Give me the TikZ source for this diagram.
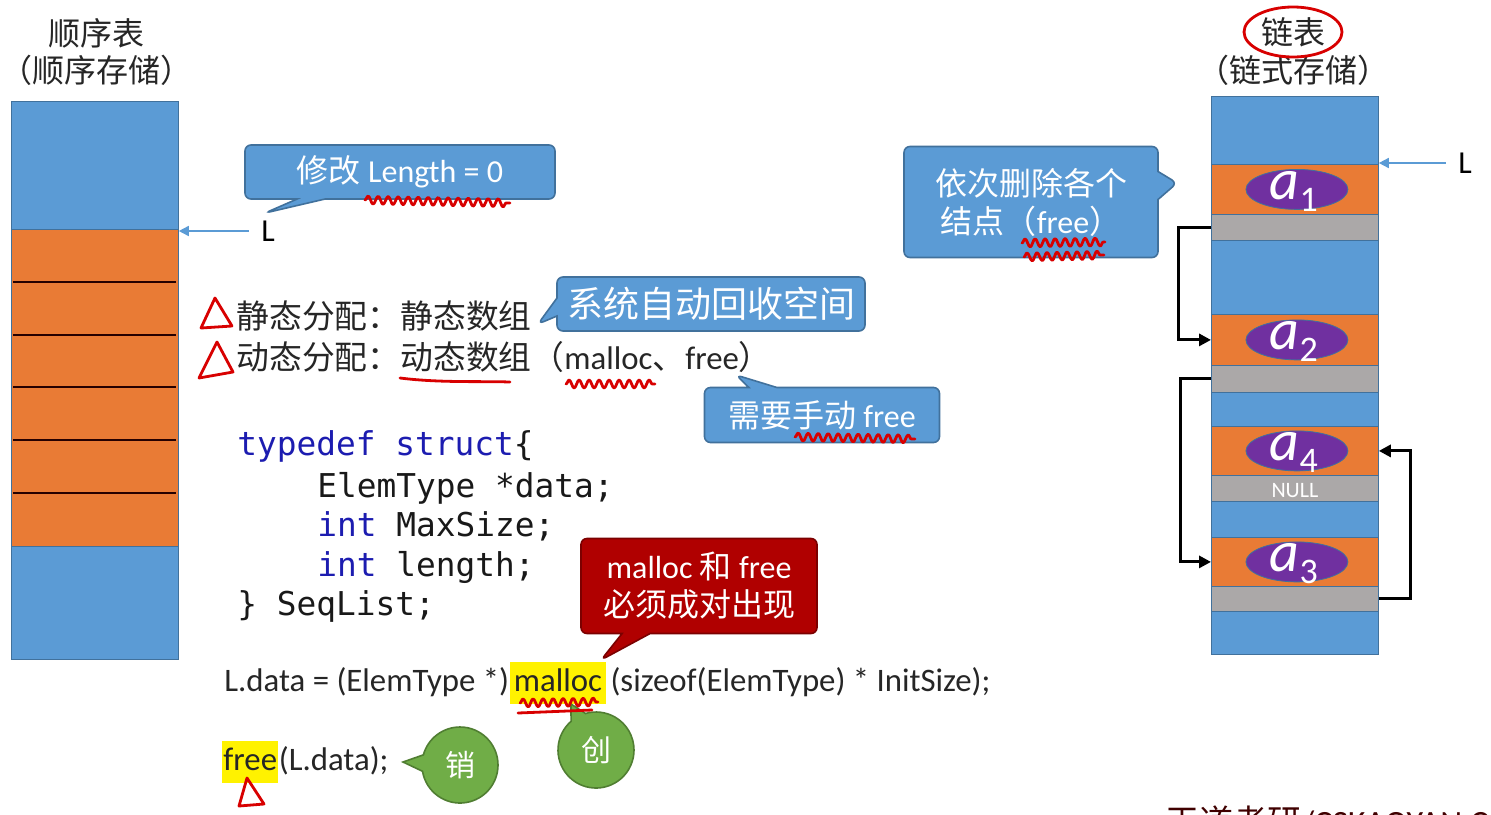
\documentclass[tikz,border=0pt]{standalone}
\usepackage{fontspec}
\setmainfont{Carlito}
\setmonofont{DejaVu Sans Mono}
\newfontfamily\cjk{Noto Sans CJK SC}
\usepackage{tikz}
\usetikzlibrary{positioning, shapes.geometric, shapes.callouts}
\usetikzlibrary{arrows.meta, decorations.pathmorphing}

\definecolor{slideblue}{HTML}{5B9BD5}
\definecolor{slideblueline}{HTML}{41719C}
\definecolor{slideorange}{HTML}{E97B35}
\definecolor{slidegray}{HTML}{ABA8A8}
\definecolor{slidepurple}{HTML}{7030A0}
\definecolor{slidegreen}{HTML}{70AD47}
\definecolor{slidegreenline}{HTML}{507E32}
\definecolor{slidered}{HTML}{B00000}
\definecolor{inkred}{HTML}{D80000}
\definecolor{kwblue}{HTML}{1C1CB0}
\definecolor{textgray}{HTML}{262626}

\newcommand{\zh}[1]{{\cjk #1}}
\newcommand{\kw}[1]{\textcolor{kwblue}{#1}}

\tikzset{
  blk/.style={draw=slideblueline, fill=slideblue, minimum width=83.5pt,
    inner sep=0pt, anchor=north west},
  dat/.style={blk, fill=slideorange},
  nxt/.style={blk, fill=slidegray},
  cell/.style={line width=1pt, draw=black!85!red},
  elem/.style={ellipse, draw=slideblueline, fill=slidepurple,
    minimum width=51pt, minimum height=20pt, inner sep=0pt},
  atext/.style={text=white, font=\fontsize{29}{29}\selectfont\itshape, inner sep=0pt},
  nulltext/.style={text=white, font=\fontsize{11}{12}\selectfont},
  ttl/.style={text=textgray, font=\fontsize{16}{19}\selectfont},
  lbl/.style={text=black, font=\fontsize{16}{19}\selectfont, inner sep=0pt},
  txt/.style={text=textgray, font=\fontsize{16.4}{20}\selectfont, inner sep=0pt,
    anchor=west, text height=12pt, text depth=4pt},
  hl/.style={txt, fill=yellow, inner xsep=2pt, inner ysep=2.5pt},
  code/.style={text=black!90, font=\ttfamily\fontsize{16.4}{20}\selectfont,
    inner sep=0pt, anchor=base west},
  lptr/.style={draw=slideblue, line width=0.8pt, -{Triangle[length=5pt, width=5pt]}},
  link/.style={draw=black, line width=1.5pt, -{Triangle[length=6pt, width=6pt]}},
  callbox/.style={rectangle callout, rounded corners=3pt, draw=slideblueline,
    fill=slideblue, text=white, line width=0.8pt, inner sep=0pt,
    callout pointer width=14pt, font=\fontsize{16}{19}\selectfont},
  gcall/.style={ellipse callout, draw=slidegreenline, fill=slidegreen, text=white,
    line width=0.8pt, minimum width=38pt, minimum height=38pt, inner sep=0pt,
    callout pointer arc=25, font=\fontsize{15}{18}\selectfont},
  ink/.style={draw=inkred, line width=1.4pt, line cap=round, line join=round},
  wavy/.style={ink, decorate, decoration={snake, amplitude=2pt, segment length=5pt}},
}

\begin{document}
\begin{tikzpicture}[x=0.5pt, y=-0.5pt]
\useasboundingbox[fill=white] (0,0) rectangle (1491,814);

% sequential storage
\node[ttl] (sqname) at (96,33) {\zh{顺序表}};
\node[ttl] (sqkind) at (96,70) {\zh{（顺序存储）}};
\node[blk, minimum height=279pt] (seq) at (11,101) {};
\node[dat, minimum height=158.5pt] (seqdata) at (11,229) {};
\foreach \yy in {282,335,387,440,493}
  \draw[cell] (13,\yy) -- (176,\yy);
\node[lbl] (Lseq) at (268,231) {L};
\draw[lptr, shorten <=6pt] (Lseq.west) -- (Lseq.west -| seq.east);

\node[callbox, minimum width=155pt, minimum height=27pt,
  callout absolute pointer={(265,213)}] (setlen) at (400,172) {\zh{修改} Length = 0};

% allocation
\node[txt] (stat) at (236,320) {\zh{静态分配：静态数组}};
\node[txt] (dyn) at (236,361) {\zh{动态分配：动态数组（}malloc\zh{、}free\zh{）}};
\node[callbox, font=\fontsize{18}{22}\selectfont, minimum width=154pt, minimum height=27pt,
  callout pointer width=9pt, callout absolute pointer={(538,324)}] (autofree) at (711,304)
  {\zh{系统自动回收空间}};
\node[callbox, minimum width=117.5pt, minimum height=27.5pt,
  callout absolute pointer={(736,375)}] (manfree) at (822,415) {\zh{需要手动} free};

\node[code] (c1) at (237,455) {\kw{typedef} \kw{struct}\{};
\node[code] (c2) at (317,497) {ElemType *data;};
\node[code] (c3) at (317,536) {\kw{int} MaxSize;};
\node[code] (c4) at (317,576) {\kw{int} length;};
\node[code] (c5) at (237,615) {\} SeqList;};

\node[callbox, fill=slidered, draw=slidered!70!black, align=center,
  minimum width=118pt, minimum height=47.5pt,
  callout absolute pointer={(601,660)}] (pair) at (699,586)
  {malloc \zh{和} free\\\zh{必须成对出现}};

\node[txt] (ld) at (224,683) {L.data = (ElemType *)};
\node[hl, right=0pt of ld] (mal) {malloc};
\node[txt, right=1.8pt of mal] (ldrest) {(sizeof(ElemType) * InitSize);};
\node[hl, inner xsep=0.5pt] (fr) at (222,762) {free};
\node[txt, right=0pt of fr] (frrest) {(L.data);};

\node[gcall, callout absolute pointer={(403,762)}] (xiao) at (460,765) {\zh{销}};
\node[gcall, callout absolute pointer={(571,704)}] (chuang) at (596,750) {\zh{创}};

% linked storage
\node[ttl] (lkname) at (1293,32) {\zh{链表}};
\node[ttl] (lkkind) at (1293,70) {\zh{（链式存储）}};
\foreach \nm/\top/\bot/\kind in {b0/96/164/blk, d1/164/214/dat, p1/214/240/nxt,
    b1/240/314/blk, d2/314/365/dat, p2/365/392/nxt, b2/392/426/blk,
    d4/426/475/dat, p4/475/501/nxt, b3/501/537/blk, d3/537/586/dat,
    p3/586/611/nxt, b4/611/654/blk}
  \node[\kind, minimum height={(\bot-\top)*0.5pt}] (\nm) at (1211,\top) {};
\foreach \i in {1,2,4,3} {
  \node[elem, xshift=1pt] (e\i) at (d\i) {};
  \node[atext, xshift=-0.5pt, yshift=-1pt] at (d\i) {a\raisebox{-6pt}{\fontsize{18}{18}\selectfont\upshape\i}};
}
\node[nulltext] (nul) at ([yshift=-1pt]p4.center) {NULL};

\draw[link] (p1.west) -- ++(-33,0) |- (d2.west);
\draw[link] (p2.west) -- ++(-31,0) |- (d3.west);
\draw[link] (p3.east) -- ++(32,0) |- (d4.east);

\node[lbl] (Llink) at (1465,163) {L};
\draw[lptr, shorten <=6pt] (Llink.west) -- (Llink.west -| d1.east);

\node[callbox, align=center, minimum width=127pt, minimum height=55.5pt,
  callout absolute pointer={(1177,183)}] (delnodes) at (1031,202)
  {\zh{依次删除各个}\\\zh{结点（}free\zh{）}};

% red ink
\draw[ink] (lkname) ellipse [x radius=24.5pt, y radius=12.5pt];
\draw[ink] (215,298) -- (201,328) -- (232,326) -- cycle;
\draw[ink] (217,342) -- (199,378) -- (233,372) -- cycle;
\draw[ink] (247,778) -- (239,806) -- (264,804) -- cycle;
\draw[wavy] (365,200) -- (510,203);
\draw[ink] (400,378) .. controls (440,383) and (480,381) .. (510,382);
\draw[wavy] (566,384) -- (655,384);
\draw[wavy] (795,437) -- (915,439);
\draw[wavy] (1022,243) -- (1105,242);
\draw[wavy] (1024,257) -- (1104,255);
\draw[wavy] (520,703) -- (598,702);
\draw[ink] (518,713) -- (592,710);

% watermark
\begin{scope}
  \clip (0,0) rectangle (1491,814);
  \node[text=black!75!red, font=\fontsize{17}{20}\selectfont, anchor=west]
    (wm) at (1158,822) {\zh{王道考研}/CSKAOYAN.COM};
\end{scope}
\end{tikzpicture}
\end{document}
